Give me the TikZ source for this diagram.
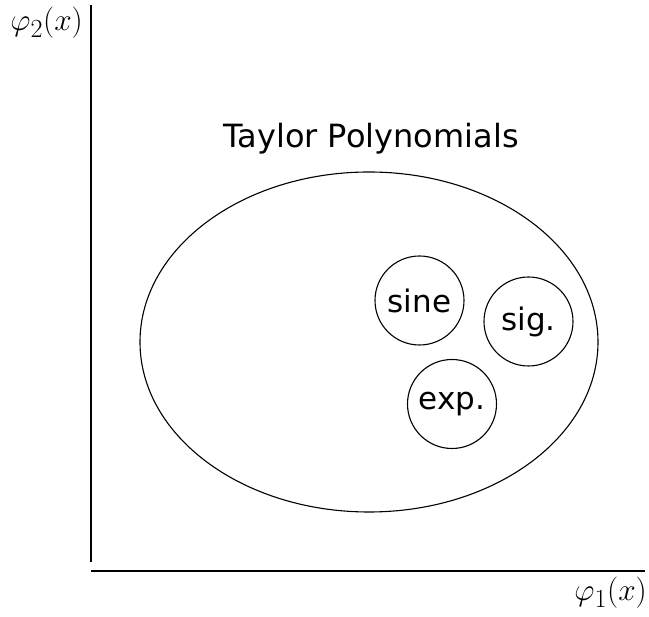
\documentclass[tikz,border=0pt]{standalone}
\usepackage{graphicx}
\usepackage{fontspec}
\newfontfamily\dejavu{DejaVu Sans}
\begin{document}
\begin{tikzpicture}[x=1pt,y=-1pt,
  lbl/.style={font=\dejavu\fontsize{32}{38}\selectfont, inner sep=0pt},
  ax/.style={line width=1.3pt},
  fn/.style={draw, circle, minimum size=89pt, inner sep=0pt, line width=1.1pt, font=\dejavu\fontsize{31}{37}\selectfont},
  mlbl/.style={inner sep=0pt, font=\Huge}]
\useasboundingbox (0,0) rectangle (649,617);
\coordinate (o) at (91,571);
\coordinate (ytop) at (91,5);
\coordinate (yend) at (91,562);
\coordinate (xend) at (645,571);
\draw[ax] (ytop) -- (yend);
\draw[ax] (o) -- (xend);
\node[mlbl, anchor=base east] (ylab) at (83,31) {\scalebox{1.26}{$\varphi_2(x)$}};
\node[mlbl, anchor=base east] (xlab) at (647,601) {\scalebox{1.26}{$\varphi_1(x)$}};
\draw[line width=1.1pt] (369,342) ellipse (229 and 170);
\node[lbl, anchor=base] (title) at (371,148) {Taylor Polynomials};
\node[fn] (sine) at (419.5,300.5) {\raisebox{-3pt}{sine}};
\node[fn] (sig) at (528.5,321.5) {\raisebox{-3pt}{sig.}};
\node[fn] (exp) at (452,404) {\raisebox{-3pt}{exp.}};
\end{tikzpicture}
\end{document}
